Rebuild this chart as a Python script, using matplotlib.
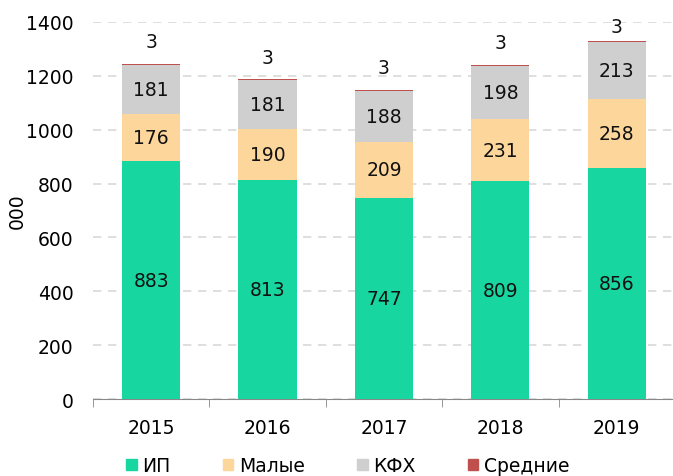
import matplotlib.pyplot as plt
from matplotlib.patches import Patch
import numpy as np

years = ["2015", "2016", "2017", "2018", "2019"]
ip = [883, 813, 747, 809, 856]
small = [176, 190, 209, 231, 258]
kfh = [181, 181, 188, 198, 213]
medium = [3, 3, 3, 3, 3]

series = [("ИП", ip, "#17d6a0"), ("Малые", small, "#fdd69c"),
          ("КФХ", kfh, "#d0cfd0"), ("Средние", medium, "#c0504d")]

FS = 13.5
plt.rcParams['font.family'] = ['DejaVu Sans']
fig = plt.figure(figsize=(6.73, 4.77), dpi=100)
ax = fig.add_axes([0.138, 0.1614, 0.865, 0.7904])

x = np.arange(len(years))
bottom = np.zeros(len(years))
for name, vals, col in series:
    vals = np.array(vals, dtype=float)
    ax.bar(x, vals, bottom=bottom, width=0.5, color=col, zorder=3)
    if name != "Средние":
        for xi, b, v in zip(x, bottom, vals):
            ax.text(xi, b + v / 2, f"{int(v)}", ha='center', va='center',
                    fontsize=FS, color='#111111', zorder=4)
    else:
        for xi, b, v in zip(x, bottom, vals):
            ax.text(xi, min(b + v + 83, 1382), f"{int(v)}", ha='center', va='center',
                    fontsize=FS, color='#111111', zorder=4)
    bottom += vals

ax.set_xlim(-0.5, 4.5)
ax.set_ylim(0, 1400)
ax.set_yticks(range(0, 1401, 200))
ax.yaxis.grid(True, color='#d9d9d9', linestyle=(0, (5, 4)), linewidth=1.2, zorder=0)
ax.set_axisbelow(True)
for s in ['top', 'right', 'left']:
    ax.spines[s].set_visible(False)
ax.spines['bottom'].set_color('#888888')
ax.tick_params(axis='y', length=0, labelsize=FS, pad=14)
ax.set_xticks(x)
ax.set_xticklabels(years)
ax.tick_params(axis='x', length=0, labelsize=FS, pad=14)
ax.set_xticks(np.arange(-0.5, 5, 1), minor=True)
ax.tick_params(axis='x', which='minor', length=6, color='#888888')
ax.set_ylabel("000", fontsize=FS)
ax.yaxis.set_label_coords(-0.113, 0.5)

handles = [Patch(color=c, label=n) for n, _, c in series]
fig.legend(handles=handles, loc='center', bbox_to_anchor=(0.517, 0.022),
           ncol=4, frameon=False, fontsize=FS, handlelength=0.55, handleheight=0.55,
           handletextpad=0.3, columnspacing=2.8)

fig.savefig("out.png", dpi=100)
